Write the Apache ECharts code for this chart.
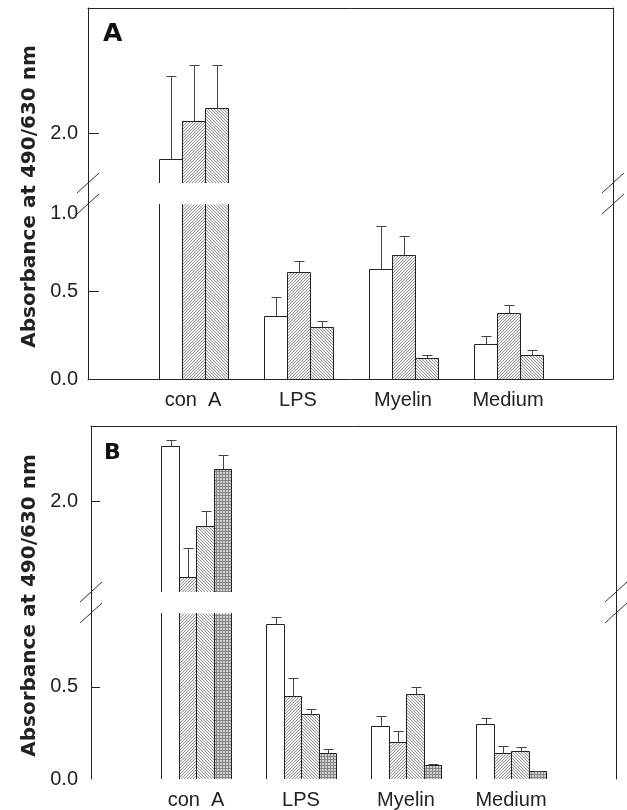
<!DOCTYPE html>
<html><head><meta charset="utf-8">
<script src="https://cdn.jsdelivr.net/npm/echarts@6/dist/echarts.min.js"></script>
<style>html,body{margin:0;padding:0;background:#fff}#c{width:627px;height:810px}</style>
</head><body><div id="c"></div>
<script>
// ---------------- data ----------------
const categories = ['con  A', 'LPS', 'Myelin', 'Medium'];

// Panel A (3 bars per group): value and SD (upper error bar)
const A_open      = [1.79, 0.36, 0.63, 0.20];
const A_open_sd   = [0.67, 0.11, 0.245, 0.046];
const A_hatch1    = [2.10, 0.61, 0.71, 0.38];
const A_hatch1_sd = [0.44, 0.064, 0.109, 0.042];
const A_hatch2    = [2.20, 0.30, 0.12, 0.14];
const A_hatch2_sd = [0.34, 0.03, 0.019, 0.023];

// Panel B (4 bars per group)
const B_open      = [2.37, 0.84, 0.29, 0.30];
const B_open_sd   = [0.035, 0.036, 0.049, 0.032];
const B_hatch1    = [1.50, 0.45, 0.20, 0.14];
const B_hatch1_sd = [0.19, 0.10, 0.058, 0.04];
const B_hatch2    = [1.84, 0.35, 0.46, 0.15];
const B_hatch2_sd = [0.10, 0.028, 0.037, 0.022];
const B_cross     = [2.215, 0.14, 0.074, 0.042];
const B_cross_sd  = [0.09, 0.02, 0.005, 0.004];

// broken y-axis ranges and tick labels
const A_upperRange = [1.6, 3.0];
const A_lowerRange = [0, 1.0];
const B_upperRange = [1.4, 2.5];
const B_lowerRange = [0, 0.9];
const A_upperTicks = [2.0];
const A_upperLabels = [2.0];
const A_lowerTicks = [0.5];
const A_lowerLabels = [0.0, 0.5, 1.0];
const B_upperTicks = [2.0];
const B_upperLabels = [2.0];
const B_lowerTicks = [0.5];
const B_lowerLabels = [0.0, 0.5];

const yTitle = 'Absorbance at 490/630 nm';

// ---------------- styles / layout ----------------
const LAYOUT = {
  A: {left: 88, width: 525, top: 8, gapTop: 183, gapBottom: 204, bottom: 379, barW: 23, tickLen: 11, labelMargin: 10, showBottomLine: true},
  B: {left: 91, width: 525, top: 426, gapTop: 592, gapBottom: 613, bottom: 779, barW: 17.5, tickLen: 9, labelMargin: 13, showBottomLine: false}
};
const LINE = '#222';
const ERR = '#444';

function tile(kind) {
  const n = 3;
  const c = document.createElement('canvas');
  c.width = n; c.height = n;
  const g = c.getContext('2d');
  if (kind === 'cross') {
    g.fillStyle = '#d2d2d2'; g.fillRect(0, 0, n, n);
    g.fillStyle = '#858585';
    g.fillRect(0, 0, n, 1); g.fillRect(0, 0, 1, n);
  } else {
    g.fillStyle = '#eeeeee'; g.fillRect(0, 0, n, n);
    g.fillStyle = '#9c9c9c';
    for (let i = 0; i < n; i++) {
      if (kind === 'fwd') g.fillRect(i, n - 1 - i, 1, 1);
      else g.fillRect(i, i, 1, 1);
    }
  }
  return {image: c, repeat: 'repeat'};
}
const FILL_KEYS = ['open', 'fwd', 'back', 'cross'];
const FILLS = {open: '#ffffff', fwd: tile('fwd'), back: tile('back'), cross: tile('cross')};

const panelSeries = {
  A: [
    {vals: A_open, sd: A_open_sd, fill: 'open'},
    {vals: A_hatch1, sd: A_hatch1_sd, fill: 'fwd'},
    {vals: A_hatch2, sd: A_hatch2_sd, fill: 'back'}
  ],
  B: [
    {vals: B_open, sd: B_open_sd, fill: 'open'},
    {vals: B_hatch1, sd: B_hatch1_sd, fill: 'fwd'},
    {vals: B_hatch2, sd: B_hatch2_sd, fill: 'back'},
    {vals: B_cross, sd: B_cross_sd, fill: 'cross'}
  ]
};
const ranges = {
  A: {upper: A_upperRange, lower: A_lowerRange, upTicks: A_upperTicks, upLabels: A_upperLabels, loTicks: A_lowerTicks, loLabels: A_lowerLabels},
  B: {upper: B_upperRange, lower: B_lowerRange, upTicks: B_upperTicks, upLabels: B_upperLabels, loTicks: B_lowerTicks, loLabels: B_lowerLabels}
};

const axisCats = [''].concat(categories).concat(['']);

const grid = [], xAxis = [], yAxis = [], series = [], graphic = [];

function makeRender(range, nSeries, barW) {
  return function (params, api) {
    const cat = api.value(0), s = api.value(1), v = api.value(2), sd = api.value(3);
    const fillKey = FILL_KEYS[api.value(4)];
    const lo = range[0], hi = range[1];
    if (!(v > lo)) return null;
    const top = Math.min(v, hi);
    const pb = api.coord([cat, lo]);
    const pt = api.coord([cat, top]);
    const x0 = Math.round(pb[0] + (s - nSeries / 2) * barW) + 0.5;
    const x1 = Math.round(pb[0] + (s + 1 - nSeries / 2) * barW) + 0.5;
    const yb = pb[1];
    const yt = Math.round(pt[1]) + 0.5;
    const children = [];
    children.push({type: 'rect', shape: {x: x0, y: yt, width: x1 - x0, height: yb - yt},
      style: {fill: FILLS[fillKey], stroke: null}});
    if (v < hi) {
      children.push({type: 'polyline', shape: {points: [[x0, yb], [x0, yt], [x1, yt], [x1, yb]]}, style: {stroke: LINE, lineWidth: 1, fill: null}});
      const et = Math.min(v + sd, hi);
      const pe = api.coord([cat, et]);
      const xm = Math.round((x0 + x1) / 2) + 0.5;
      const ye = Math.round(pe[1]) + 0.5;
      children.push({type: 'line', shape: {x1: xm, y1: yt, x2: xm, y2: ye}, style: {stroke: ERR, lineWidth: 1}});
      children.push({type: 'line', shape: {x1: xm - 5, y1: ye, x2: xm + 5, y2: ye}, style: {stroke: ERR, lineWidth: 1}});
    } else {
      children.push({type: 'line', shape: {x1: x0, y1: yb, x2: x0, y2: yt - 0.5}, style: {stroke: LINE, lineWidth: 1}});
      children.push({type: 'line', shape: {x1: x1, y1: yb, x2: x1, y2: yt - 0.5}, style: {stroke: LINE, lineWidth: 1}});
    }
    return {type: 'group', children: children};
  };
}

function buildData(key) {
  const out = [];
  panelSeries[key].forEach((ser, s) => {
    ser.vals.forEach((v, c) => {
      out.push([c + 1, s, v, ser.sd[c], FILL_KEYS.indexOf(ser.fill)]);
    });
  });
  return out;
}

const labelFont = {fontFamily: 'Liberation Sans', fontSize: 20, color: '#222'};

['A', 'B'].forEach(key => {
  const P = LAYOUT[key], R = ranges[key];
  const nS = panelSeries[key].length;
  // frame grid
  const gF = grid.length;
  grid.push({left: P.left, top: P.top, width: P.width, height: P.bottom - P.top});
  xAxis.push({gridIndex: gF, type: 'category', data: axisCats, boundaryGap: false, position: 'bottom',
    axisLine: {show: P.showBottomLine, onZero: false, lineStyle: {color: LINE, width: 1}}, axisTick: {show: false},
    axisLabel: Object.assign({interval: 0, margin: 11}, labelFont), splitLine: {show: false}});
  xAxis.push({gridIndex: gF, type: 'category', data: axisCats, boundaryGap: false, position: 'top',
    axisLine: {show: true, onZero: false, lineStyle: {color: LINE, width: 1}}, axisTick: {show: false}, axisLabel: {show: false}});
  yAxis.push({gridIndex: gF, type: 'value', min: 0, max: 1, position: 'left',
    axisLine: {show: true, onZero: false, lineStyle: {color: LINE, width: 1}}, axisTick: {show: false}, axisLabel: {show: false}, splitLine: {show: false}});
  yAxis.push({gridIndex: gF, type: 'value', min: 0, max: 1, position: 'right',
    axisLine: {show: true, onZero: false, lineStyle: {color: LINE, width: 1}}, axisTick: {show: false}, axisLabel: {show: false}, splitLine: {show: false}});

  const segs = [
    {range: R.upper, top: P.top, bottom: P.gapTop, ticks: R.upTicks, labels: R.upLabels},
    {range: R.lower, top: P.gapBottom, bottom: P.bottom, ticks: R.loTicks, labels: R.loLabels}
  ];
  segs.forEach(sg => {
    const gi = grid.length;
    grid.push({left: P.left, top: sg.top, width: P.width, height: sg.bottom - sg.top});
    const xi = xAxis.length;
    xAxis.push({gridIndex: gi, type: 'category', data: axisCats, boundaryGap: false, show: false});
    const yi = yAxis.length;
    yAxis.push({gridIndex: gi, type: 'value', min: sg.range[0], max: sg.range[1], position: 'left',
      axisLine: {show: false}, splitLine: {show: false},
      axisTick: {show: true, inside: true, length: P.tickLen, customValues: sg.ticks, lineStyle: {color: LINE, width: 1}},
      axisLabel: Object.assign({margin: P.labelMargin, customValues: sg.labels,
        formatter: v => (key === 'A' && v === 1) ? '{dn|' + v.toFixed(1) + '}' : v.toFixed(1),
        rich: {dn: {fontFamily: 'Liberation Sans', fontSize: 20, color: '#222', padding: [18, 0, 0, 0]}}}, labelFont)});
    series.push({type: 'custom', xAxisIndex: xi, yAxisIndex: yi, renderItem: makeRender(sg.range, nS, P.barW),
      data: buildData(key), encode: {x: 0, y: 2}, silent: true, animation: false});
  });

  // break marks on both vertical axes
  [P.left, P.left + P.width].forEach(ax => {
    [P.gapTop, P.gapBottom].forEach(gy => {
      graphic.push({type: 'line', silent: true, shape: {x1: ax - 11, y1: gy + 10, x2: ax + 11, y2: gy - 10},
        style: {stroke: '#333', lineWidth: 1}});
    });
  });
  // y title
  graphic.push({type: 'text', x: 30, y: (P.top + P.bottom) / 2 + 3, rotation: Math.PI / 2,
    style: {text: yTitle, fontFamily: 'DejaVu Sans', fontWeight: 'bold', fontSize: 20, fill: '#222', align: 'center', verticalAlign: 'middle'}});
  // panel letter
  graphic.push({type: 'text', x: key === 'A' ? 103 : 104, y: key === 'A' ? 34 : 453,
    style: {text: key, fontFamily: 'DejaVu Sans', fontWeight: 'bold', fontSize: key === 'A' ? 25 : 22, fill: '#111', align: 'left', verticalAlign: 'middle'}});
});

const chart = echarts.init(document.getElementById('c'), null, {renderer: 'canvas'});
chart.setOption({animation: false, backgroundColor: '#fff', grid, xAxis, yAxis, series, graphic});
</script>
</body></html>
